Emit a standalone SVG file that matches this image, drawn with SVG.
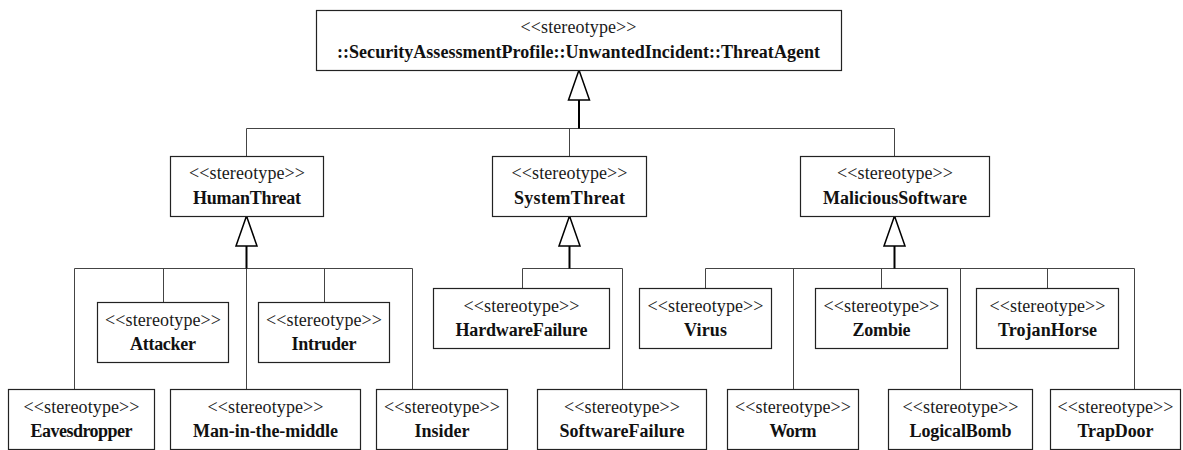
<svg xmlns="http://www.w3.org/2000/svg" width="1183" height="450" viewBox="0 0 1183 450">
  <style>
    .box { fill: #ffffff; stroke: #222222; stroke-width: 1.2; }
    .st { font-family: "Liberation Serif", "Times New Roman", serif; font-size: 18px; fill: #1a1a1a; text-anchor: middle; }
    .nm { font-family: "Liberation Serif", "Times New Roman", serif; font-size: 18px; font-weight: bold; fill: #111111; text-anchor: middle; }
    .link { fill: none; stroke: #444444; stroke-width: 1; }
    .stem { fill: none; stroke: #000000; stroke-width: 2; marker-end: url(#gen); }
  </style>
  <defs>
    <!-- hollow generalization triangle, tip on the parent edge -->
    <marker id="gen" markerUnits="userSpaceOnUse" markerWidth="34" markerHeight="26" viewBox="0 0 34 26" refX="32" refY="12" orient="auto">
      <path d="M2,1.5 L32,12 L2,22.5 Z" fill="#ffffff" stroke="#000000" stroke-width="1.5" stroke-linejoin="miter"/>
    </marker>
  </defs>

  <rect width="1183" height="450" fill="#ffffff"/>

  <!-- connectors -->
  <g id="connectors">
    <!-- ThreatAgent generalization -->
    <path class="link" d="M246.5,128.5 H894.5 M246.5,128.5 V156 M569.5,128.5 V156 M894.5,128.5 V156"/>
    <path class="stem" d="M579,128.5 V70"/>
    <!-- HumanThreat generalization -->
    <path class="link" d="M74.5,268.5 H412.5 M74.5,268.5 V389 M163.5,268.5 V302 M246.5,268.5 V389 M324.5,268.5 V302 M412.5,268.5 V389"/>
    <path class="stem" d="M246.5,268.5 V216"/>
    <!-- SystemThreat generalization -->
    <path class="link" d="M522.5,268.5 H622.5 M522.5,268.5 V288 M622.5,268.5 V389"/>
    <path class="stem" d="M569.5,268.5 V216"/>
    <!-- MaliciousSoftware generalization -->
    <path class="link" d="M705.5,268.5 H1134.5 M705.5,268.5 V288 M793.5,268.5 V389 M881.5,268.5 V288 M960.5,268.5 V389 M1047.5,268.5 V288 M1134.5,268.5 V389"/>
    <path class="stem" d="M894.5,268.5 V216"/>
  </g>

  <!-- root stereotype -->
  <g id="ThreatAgent">
    <rect class="box" x="316.5" y="10.5" width="525" height="60"/>
    <text class="st" x="578.5" y="33" textLength="116" lengthAdjust="spacing">&lt;&lt;stereotype&gt;&gt;</text>
    <text class="nm" x="578.5" y="58" textLength="483" lengthAdjust="spacing">::SecurityAssessmentProfile::UnwantedIncident::ThreatAgent</text>
  </g>

  <!-- second level -->
  <g id="HumanThreat">
    <rect class="box" x="170.5" y="156.5" width="153" height="60"/>
    <text class="st" x="247" y="179" textLength="116" lengthAdjust="spacing">&lt;&lt;stereotype&gt;&gt;</text>
    <text class="nm" x="247" y="204" textLength="108" lengthAdjust="spacing">HumanThreat</text>
  </g>
  <g id="SystemThreat">
    <rect class="box" x="492.5" y="156.5" width="154" height="60"/>
    <text class="st" x="569.5" y="179" textLength="116" lengthAdjust="spacing">&lt;&lt;stereotype&gt;&gt;</text>
    <text class="nm" x="569.5" y="204" textLength="111" lengthAdjust="spacing">SystemThreat</text>
  </g>
  <g id="MaliciousSoftware">
    <rect class="box" x="800.5" y="156.5" width="189" height="60"/>
    <text class="st" x="895" y="179" textLength="116" lengthAdjust="spacing">&lt;&lt;stereotype&gt;&gt;</text>
    <text class="nm" x="895" y="204" textLength="144" lengthAdjust="spacing">MaliciousSoftware</text>
  </g>

  <!-- HumanThreat children -->
  <g id="Attacker">
    <rect class="box" x="97.5" y="302.5" width="131" height="60"/>
    <text class="st" x="163" y="326" textLength="116" lengthAdjust="spacing">&lt;&lt;stereotype&gt;&gt;</text>
    <text class="nm" x="163" y="350" textLength="66" lengthAdjust="spacing">Attacker</text>
  </g>
  <g id="Intruder">
    <rect class="box" x="258.5" y="302.5" width="131" height="60"/>
    <text class="st" x="324" y="326" textLength="116" lengthAdjust="spacing">&lt;&lt;stereotype&gt;&gt;</text>
    <text class="nm" x="324" y="350" textLength="65" lengthAdjust="spacing">Intruder</text>
  </g>
  <g id="Eavesdropper">
    <rect class="box" x="8.5" y="389.5" width="146" height="60"/>
    <text class="st" x="81.5" y="413" textLength="116" lengthAdjust="spacing">&lt;&lt;stereotype&gt;&gt;</text>
    <text class="nm" x="81.5" y="437" textLength="102" lengthAdjust="spacing">Eavesdropper</text>
  </g>
  <g id="ManInTheMiddle">
    <rect class="box" x="170.5" y="389.5" width="190" height="60"/>
    <text class="st" x="265.5" y="413" textLength="116" lengthAdjust="spacing">&lt;&lt;stereotype&gt;&gt;</text>
    <text class="nm" x="265.5" y="437" textLength="145" lengthAdjust="spacing">Man-in-the-middle</text>
  </g>
  <g id="Insider">
    <rect class="box" x="376.5" y="389.5" width="131" height="60"/>
    <text class="st" x="442" y="413" textLength="116" lengthAdjust="spacing">&lt;&lt;stereotype&gt;&gt;</text>
    <text class="nm" x="442" y="437" textLength="55" lengthAdjust="spacing">Insider</text>
  </g>

  <!-- SystemThreat children -->
  <g id="HardwareFailure">
    <rect class="box" x="433.5" y="288.5" width="176" height="60"/>
    <text class="st" x="521.5" y="312" textLength="116" lengthAdjust="spacing">&lt;&lt;stereotype&gt;&gt;</text>
    <text class="nm" x="521.5" y="336" textLength="132" lengthAdjust="spacing">HardwareFailure</text>
  </g>
  <g id="SoftwareFailure">
    <rect class="box" x="537.5" y="389.5" width="169" height="60"/>
    <text class="st" x="622" y="413" textLength="116" lengthAdjust="spacing">&lt;&lt;stereotype&gt;&gt;</text>
    <text class="nm" x="622" y="437" textLength="125" lengthAdjust="spacing">SoftwareFailure</text>
  </g>

  <!-- MaliciousSoftware children -->
  <g id="Virus">
    <rect class="box" x="639.5" y="288.5" width="132" height="60"/>
    <text class="st" x="705.5" y="312" textLength="116" lengthAdjust="spacing">&lt;&lt;stereotype&gt;&gt;</text>
    <text class="nm" x="705.5" y="336" textLength="43" lengthAdjust="spacing">Virus</text>
  </g>
  <g id="Zombie">
    <rect class="box" x="815.5" y="288.5" width="132" height="60"/>
    <text class="st" x="881.5" y="312" textLength="116" lengthAdjust="spacing">&lt;&lt;stereotype&gt;&gt;</text>
    <text class="nm" x="881.5" y="336" textLength="58" lengthAdjust="spacing">Zombie</text>
  </g>
  <g id="TrojanHorse">
    <rect class="box" x="976.5" y="288.5" width="142" height="60"/>
    <text class="st" x="1047.5" y="312" textLength="116" lengthAdjust="spacing">&lt;&lt;stereotype&gt;&gt;</text>
    <text class="nm" x="1047.5" y="336" textLength="99" lengthAdjust="spacing">TrojanHorse</text>
  </g>
  <g id="Worm">
    <rect class="box" x="727.5" y="389.5" width="131" height="60"/>
    <text class="st" x="793" y="413" textLength="116" lengthAdjust="spacing">&lt;&lt;stereotype&gt;&gt;</text>
    <text class="nm" x="793" y="437" textLength="47" lengthAdjust="spacing">Worm</text>
  </g>
  <g id="LogicalBomb">
    <rect class="box" x="888.5" y="389.5" width="144" height="60"/>
    <text class="st" x="960.5" y="413" textLength="116" lengthAdjust="spacing">&lt;&lt;stereotype&gt;&gt;</text>
    <text class="nm" x="960.5" y="437" textLength="102" lengthAdjust="spacing">LogicalBomb</text>
  </g>
  <g id="TrapDoor">
    <rect class="box" x="1050.5" y="389.5" width="130" height="60"/>
    <text class="st" x="1115.5" y="413" textLength="116" lengthAdjust="spacing">&lt;&lt;stereotype&gt;&gt;</text>
    <text class="nm" x="1115.5" y="437" textLength="76" lengthAdjust="spacing">TrapDoor</text>
  </g>
</svg>
